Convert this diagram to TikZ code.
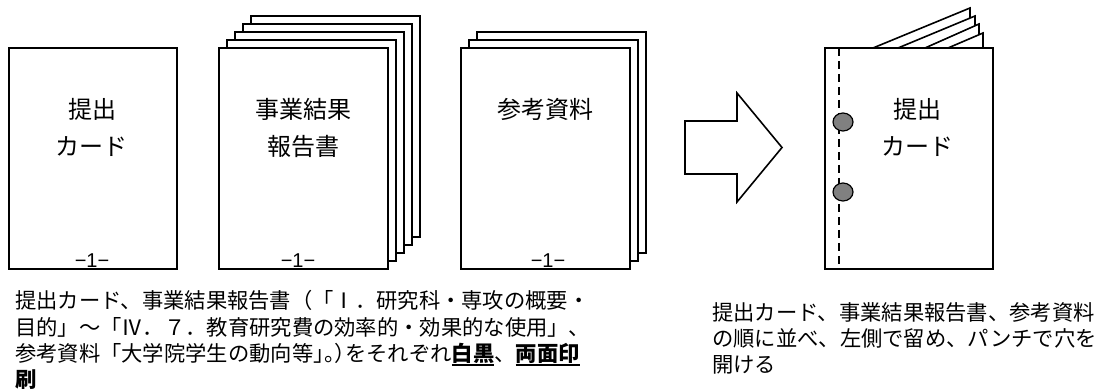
\documentclass[tikz,border=0pt]{standalone}
\usepackage{fontspec}
\usetikzlibrary{shapes.geometric}
\newfontfamily\jp{Noto Sans CJK JP}
\newfontfamily\jphalt{Noto Sans CJK JP}[RawFeature=+halt]
\newfontfamily\lib{Liberation Sans}
\definecolor{holegray}{RGB}{128,128,128}
\newcommand\myul[1]{\setbox0\hbox{#1}\rlap{\rule[-4pt]{\wd0}{2pt}}\box0}
\begin{document}
\begin{tikzpicture}[x=1pt,y=-1pt,
  paper/.style={draw,line width=1.8pt,fill=white,rectangle,minimum width=168pt,minimum height=221pt,anchor=north west,inner sep=0pt,outer sep=0pt},
  fanpage/.style={draw,line width=1.6pt,fill=white,line join=miter},
  cardtxt/.style={font=\jp\fontsize{24}{28}\selectfont,anchor=base,inner sep=0pt},
  pagenum/.style={font=\lib\fontsize{20}{22}\selectfont,anchor=base,inner sep=0pt},
  body/.style={font=\jp\fontsize{21.3}{26}\selectfont,anchor=base west,inner sep=0pt},
  hole/.style={draw,line width=1.2pt,fill=holegray,ellipse,minimum width=20pt,minimum height=18pt,inner sep=0pt},
  bind/.style={line width=1.2pt,dash pattern=on 8pt off 5pt},
  blockarrow/.style={draw,line width=1.6pt,fill=white,line join=miter}]
\useasboundingbox (0,0) rectangle (1096,390);

% card 1
\node[paper] (c1) at (9,48) {};
\node[cardtxt] (c1t1) at (92,119) {提出};
\node[cardtxt] (c1t2) at (92,156) {カード};
\node[pagenum] (c1n) at (92,268) {−1−};

% card 2 stack
\foreach \k in {4,3,2,1} \node[paper,minimum width=169pt] (c2b\k) at ({219+8*\k},{48-8*\k}) {};
\node[paper,minimum width=169pt] (c2) at (219,48) {};
\node[cardtxt] (c2t1) at (303,119) {事業結果};
\node[cardtxt] (c2t2) at (303,156) {報告書};
\node[pagenum] (c2n) at (298,268) {−1−};

% card 3 stack
\foreach \k in {2,1} \node[paper,minimum width=169pt] (c3b\k) at ({461+8*\k},{48-8*\k}) {};
\node[paper,minimum width=169pt] (c3) at (461,48) {};
\node[cardtxt] (c3t1) at (545.5,119) {参考資料};
\node[pagenum] (c3n) at (548,268) {−1−};

% block arrow
\draw[blockarrow] (685,121) -- (737,121) -- (737,93) -- (782,147.5) -- (737,202) -- (737,174) -- (685,174) -- cycle;

% booklet
\foreach \xs/\xe/\yt in {873/970/8, 898/975/16, 925/979/24, 948/983/33}
  \draw[fanpage] (\xs,48) -- (\xe,\yt) -- (\xe,48) -- cycle;
\node[paper] (bk) at (825,48) {};
\draw[bind] ([xshift=14pt]bk.north west) -- ([xshift=14pt]bk.south west);
\node[hole] (h1) at (843,122) {};
\node[hole] (h2) at (843,192) {};
\node[cardtxt] (bkt1) at (917,119) {提出};
\node[cardtxt] (bkt2) at (917,156) {カード};

% captions
\node[body] (l1) at (15,308.5) {提出カード、事業結果報告書（「Ⅰ．研究科・専攻の概要・};
\node[body] (l2) at (15,335) {目的」～「Ⅳ．７．教育研究費の効率的・効果的な使用」、};
\node[body] (l3) at (15,361.5) {参考資料「大学院学生の動向等{\jphalt 」。）}をそれぞれ\textbf{\myul{白黒}}、\textbf{\myul{両面印}}};
\node[body] (l4) at (15,388) {\textbf{\myul{刷}}};

\node[body] (r1) at (712,320) {提出カード、事業結果報告書、参考資料};
\node[body] (r2) at (712,346.5) {の順に並べ、左側で留め、パンチで穴を};
\node[body] (r3) at (712,373) {開ける};
\end{tikzpicture}
\end{document}
